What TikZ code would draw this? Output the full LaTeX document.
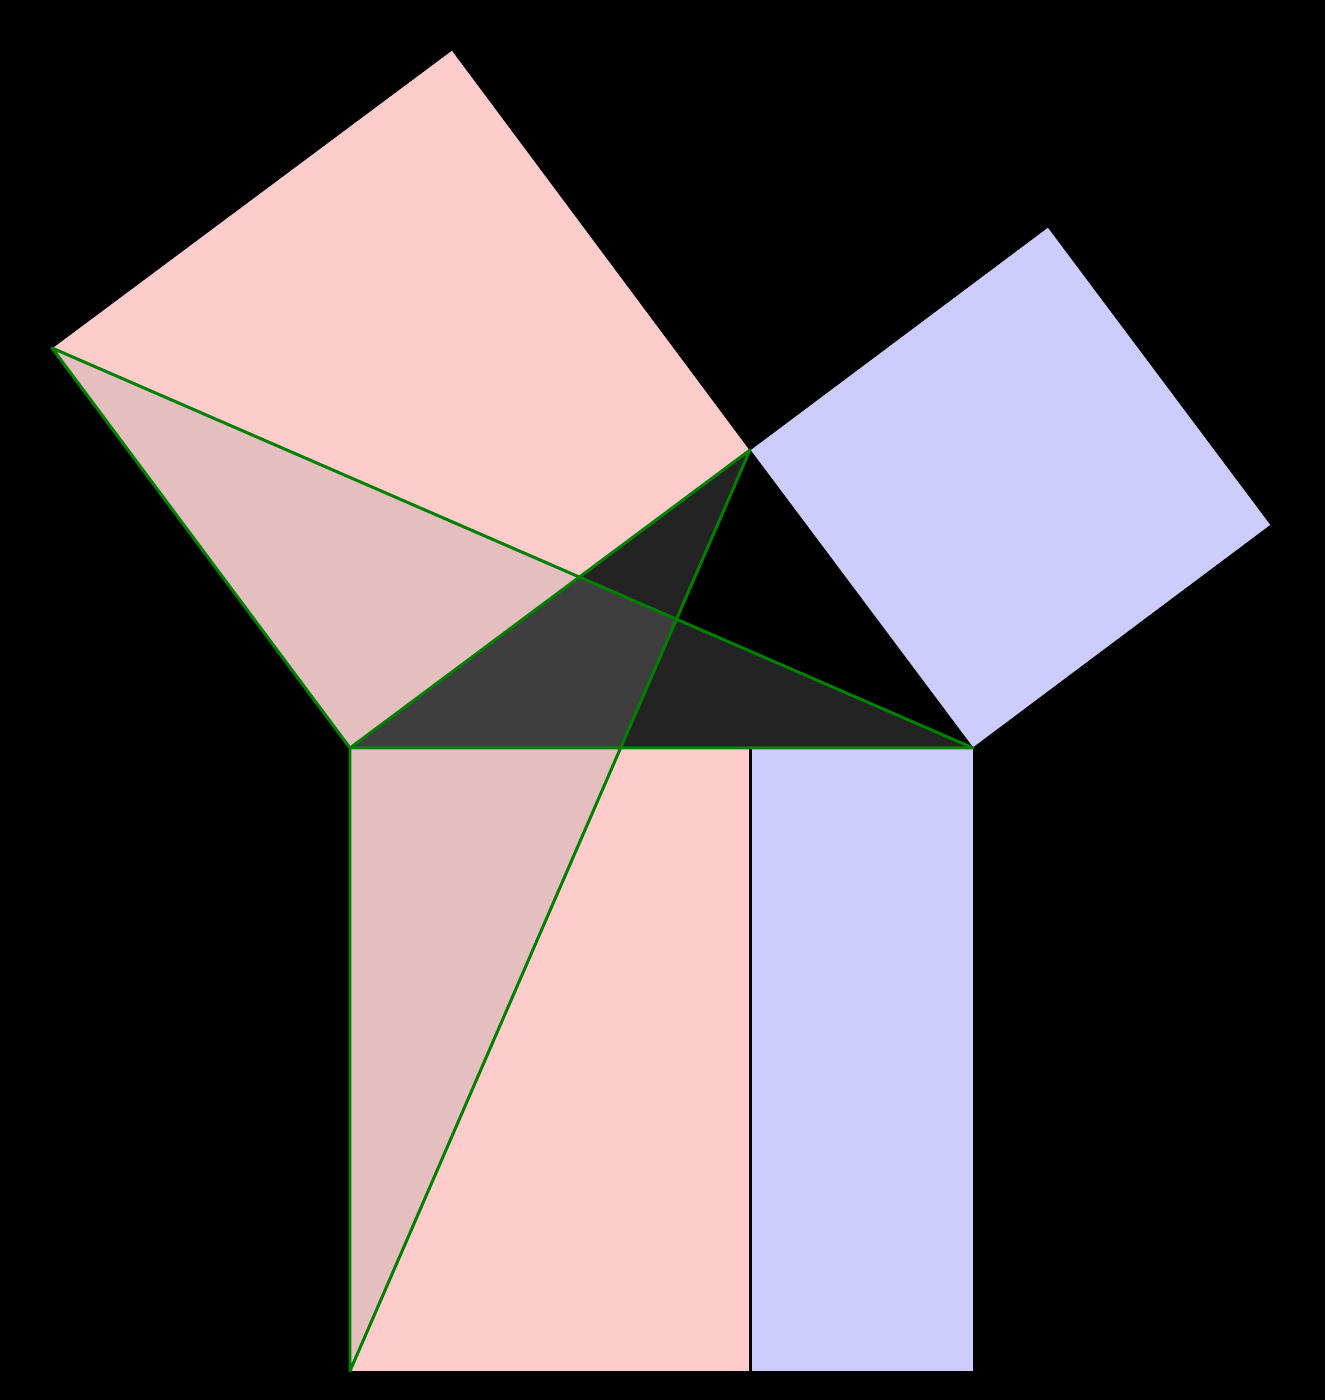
\documentclass[tikz,border=0pt]{standalone}
\usepackage{tikz}
\usetikzlibrary{calc}
\definecolor{sqpink}{RGB}{255,204,204}
\definecolor{sqblue}{RGB}{204,204,255}
\definecolor{trigray}{RGB}{150,150,150}
\definecolor{proofgreen}{RGB}{0,128,0}
\tikzset{
  sqfill/.style={draw=black,line width=.5pt},
  proofline/.style={draw=proofgreen,line width=1.7pt,line join=round},
  shadetri/.style={fill=trigray,fill opacity=.24}
}

\begin{document}
\begin{tikzpicture}[x=.02cm,y=.02cm]
\fill[black] (0,0) rectangle (1325,1400);
\useasboundingbox (0,0) rectangle (1325,1400);
\coordinate (A) at (350,652);
\coordinate (B) at (973,652);
\coordinate (C) at (750,950);
% squares on the legs
\coordinate (F) at ($(A)!1!90:(C)$);
\coordinate (G) at ($(C)!1!-90:(A)$);
\coordinate (H) at ($(C)!1!90:(B)$);
\coordinate (I) at ($(B)!1!-90:(C)$);
% square on the hypotenuse
\coordinate (L) at ($(A)!1!-90:(B)$);
\coordinate (M) at ($(B)!1!90:(A)$);
\coordinate (K) at (C|-A);
\coordinate (Kp) at (C|-L);
\filldraw[sqfill,fill=sqpink] (A) -- (C) -- (G) -- (F) -- cycle;
\filldraw[sqfill,fill=sqblue] (C) -- (B) -- (I) -- (H) -- cycle;
\filldraw[sqfill,fill=sqpink] (A) -- (K) -- (Kp) -- (L) -- cycle;
\filldraw[sqfill,fill=sqblue] (K) -- (B) -- (M) -- (Kp) -- cycle;
\draw[line width=1.7pt] (K) -- (Kp);
% congruent triangles
\fill[shadetri] (F) -- (A) -- (B) -- cycle;
\fill[shadetri] (C) -- (A) -- (L) -- cycle;
\draw[proofline] (F) -- (B) -- (A) -- cycle;
\draw[proofline] (C) -- (L) -- (A) -- cycle;
\end{tikzpicture}
\end{document}
